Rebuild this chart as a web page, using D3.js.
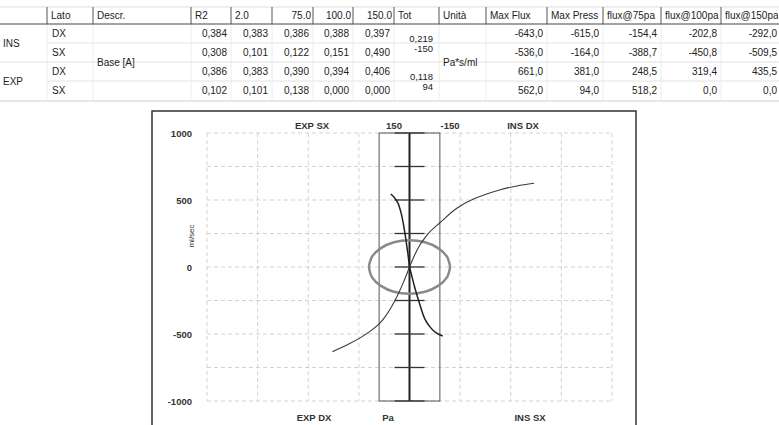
<!DOCTYPE html>
<html>
<head>
<meta charset="utf-8">
<script src="https://cdn.jsdelivr.net/npm/d3@7"></script>
<style>
  body { margin: 0; background: #fff; }
  svg { display: block; }
</style>
</head>
<body>
<div id="chart"></div>
<script>
// Table data
const tableHeaders = ["", "Lato", "Descr.", "R2", "2.0", "75.0", "100.0", "150.0", "Tot", "Unità",
    "Max Flux", "Max Press", "flux@75pa", "flux@100pa", "flux@150pa"];
const groups = ["INS", "EXP"];
const sides = ["DX", "SX", "DX", "SX"];
const descr = "Base [A]";
const unit = "Pa*s/ml";
const r2Values = [
    ["0,384", "0,383", "0,386", "0,388", "0,397"],
    ["0,308", "0,101", "0,122", "0,151", "0,490"],
    ["0,386", "0,383", "0,390", "0,394", "0,406"],
    ["0,102", "0,101", "0,138", "0,000", "0,000"]
];
const totValues = [["0,219", "-150"], ["0,118", "94"]];
const fluxValues = [
    ["-643,0", "-615,0", "-154,4", "-202,8", "-292,0"],
    ["-536,0", "-164,0", "-388,7", "-450,8", "-509,5"],
    ["661,0", "381,0", "248,5", "319,4", "435,5"],
    ["562,0", "94,0", "518,2", "0,0", "0,0"]
];

// Curve data [pressure Pa, flow ml/sec] as plotted
const insDx = [[0, 0], [-25, 88], [-50, 160], [-75, 215], [-100, 262], [-150, 330], [-230, 435], [-313, 505], [-444, 575], [-530, 605], [-615, 625]];
const expDx = [[0, 0], [30, -115], [60, -215], [90, -300], [120, -370], [150, -425], [190, -475], [240, -525], [300, -575], [381, -632]];
const expSx = [[0, 0], [8, 100], [25, 276], [41, 400], [58, 480], [75, 518], [92, 545]];
const insSx = [[0, 0], [-8, -47], [-25, -147], [-50, -275], [-75, -385], [-100, -445], [-130, -490], [-164, -515]];
const refCircle = [[200, 0], [185, 77], [141, 141], [77, 185], [0, 200], [-77, 185], [-141, 141], [-185, 77],
    [-200, 0], [-185, -77], [-141, -141], [-77, -185], [0, -200], [77, -185], [141, -141], [185, -77]];
const yTickLabels = [1000, 500, 0, -500, -1000];
const gridSteps = [-1000, -750, -500, -250, 0, 250, 500, 750, 1000];
const pressBox = [150, -150];

const width = 779, height = 425;
const svg = d3.select("#chart").append("svg")
    .attr("width", width).attr("height", height)
    .style("font-family", "'Liberation Sans', Arial, sans-serif");

// ---------- table ----------
const colX = [0, 47, 93, 191, 231, 272, 313, 353, 394, 439, 486, 547, 603, 661, 721, 779];
const headTop = 7, headBot = 24, rowH = 19;
const rowY = i => headBot + i * rowH;
const table = svg.append("g").style("font-size", "10px").attr("fill", "#222");

// row lines
[1, 2, 3].forEach(i => {
    table.append("line")
        .attr("x1", i === 2 ? 0 : 47).attr("x2", 779)
        .attr("y1", rowY(i)).attr("y2", rowY(i))
        .attr("stroke", "#e2e2e2");
});
table.append("line").attr("x1", 0).attr("x2", 779).attr("y1", rowY(4) + 1).attr("y2", rowY(4) + 1)
    .attr("stroke", "#cfcfcf");
table.append("line").attr("x1", 0).attr("x2", 779).attr("y1", headTop).attr("y2", headTop)
    .attr("stroke", "#ddd");
// column lines
colX.slice(1, -1).forEach(x => {
    table.append("line").attr("x1", x).attr("x2", x).attr("y1", headTop).attr("y2", headBot)
        .attr("stroke", "#555");
    table.append("line").attr("x1", x).attr("x2", x).attr("y1", headBot).attr("y2", rowY(4))
        .attr("stroke", "#ececec");
});
table.append("line").attr("x1", 0).attr("x2", 779).attr("y1", headBot).attr("y2", headBot)
    .attr("stroke", "#444");

// header texts
const defs = svg.append("defs");
tableHeaders.forEach((h, i) => {
    if (!h) return;
    defs.append("clipPath").attr("id", "hc" + i).append("rect")
        .attr("x", colX[i]).attr("y", headTop).attr("width", colX[i + 1] - colX[i] - 1).attr("height", headBot - headTop);
    const right = i >= 5 && i <= 7;
    table.append("text")
        .attr("clip-path", `url(#hc${i})`)
        .attr("x", right ? colX[i + 1] - 2 : colX[i] + 4)
        .attr("y", headTop + 12)
        .attr("text-anchor", right ? "end" : "start")
        .text(h);
});

// body
groups.forEach((g, k) => {
    table.append("text").attr("x", 3).attr("y", rowY(2 * k + 1) + 4).text(g);
    totValues[k].forEach((t, j) => {
        table.append("text").attr("x", 433).attr("y", rowY(2 * k) + 18 + j * 10)
            .style("font-size", "9.5px")
            .attr("text-anchor", "end").text(t);
    });
});
sides.forEach((s, r) => {
    table.append("text").attr("x", 52).attr("y", rowY(r) + 13).text(s);
    r2Values[r].forEach((v, c) => {
        table.append("text").attr("x", colX[c + 4] - 4).attr("y", rowY(r) + 13)
            .attr("text-anchor", "end").text(v);
    });
    fluxValues[r].forEach((v, c) => {
        table.append("text").attr("x", colX[c + 11] - 4 + (c === 4 ? 2 : 0)).attr("y", rowY(r) + 13)
            .attr("text-anchor", "end").text(v);
    });
});
table.append("text").attr("x", 97).attr("y", rowY(2) + 4).text(descr);
table.append("text").attr("x", 443).attr("y", rowY(2) + 4).text(unit);

// ---------- chart ----------
const x = d3.scaleLinear().domain([1000, -1000]).range([207, 612]);
const y = d3.scaleLinear().domain([-1000, 1000]).range([401, 133]);

svg.append("rect").attr("x", 152).attr("y", 111).attr("width", 484).attr("height", 340)
    .attr("fill", "none").attr("stroke", "#333").attr("stroke-width", 1.5);

const grid = svg.append("g").attr("stroke", "#c8c8c8").attr("stroke-dasharray", "4,3").attr("stroke-width", 0.8);
gridSteps.forEach(v => {
    grid.append("line").attr("x1", x(1000)).attr("x2", x(-1000)).attr("y1", y(v)).attr("y2", y(v));
    grid.append("line").attr("x1", x(v)).attr("x2", x(v)).attr("y1", y(1000)).attr("y2", y(-1000));
});

// pressure box
svg.append("rect")
    .attr("x", x(pressBox[0])).attr("y", y(1000))
    .attr("width", x(pressBox[1]) - x(pressBox[0])).attr("height", y(-1000) - y(1000))
    .attr("fill", "none").attr("stroke", "#555").attr("stroke-width", 1);

// central axis with ticks
svg.append("line").attr("x1", x(0)).attr("x2", x(0)).attr("y1", y(1000)).attr("y2", y(-1000))
    .attr("stroke", "#222").attr("stroke-width", 2);
svg.append("g").selectAll("line").data(gridSteps).join("line")
    .attr("x1", x(0) - 15).attr("x2", x(0) + 15)
    .attr("y1", d => y(d)).attr("y2", d => y(d))
    .attr("stroke", "#333").attr("stroke-width", 1.3);

// y axis labels
const yAxis = svg.append("g").attr("transform", "translate(192,0)")
    .call(d3.axisLeft(y).tickValues(yTickLabels).tickFormat(d => String(d)).tickSize(0).tickPadding(0));
yAxis.select(".domain").remove();
yAxis.selectAll("text").attr("fill", "#333").style("font-size", "9.5px").style("font-weight", "bold")
    .style("font-family", "'Liberation Sans', Arial, sans-serif");

svg.append("text").attr("transform", "translate(194,236) rotate(-90)")
    .attr("text-anchor", "middle").style("font-size", "8px").attr("fill", "#333").text("ml/sec");

// reference circle
const line = d3.line().x(d => x(d[0])).y(d => y(d[1]));
svg.append("path").datum(refCircle)
    .attr("d", line.curve(d3.curveCardinalClosed.tension(0.3)))
    .attr("fill", "none").attr("stroke", "#8a8a8a").attr("stroke-width", 2.5);

// curves
const curveLine = d3.line().x(d => x(d[0])).y(d => y(d[1])).curve(d3.curveCatmullRom);
[insDx, expDx].forEach(s => {
    svg.append("path").datum(s).attr("d", curveLine)
        .attr("fill", "none").attr("stroke", "#3a3a3a").attr("stroke-width", 1.1);
});
[expSx, insSx].forEach(s => {
    svg.append("path").datum(s).attr("d", curveLine)
        .attr("fill", "none").attr("stroke", "#222").attr("stroke-width", 1.5);
});

// labels
const lbl = svg.append("g").style("font-size", "9.5px").style("font-weight", "bold").attr("fill", "#333")
    .attr("text-anchor", "middle");
lbl.append("text").attr("x", 312).attr("y", 129).text("EXP SX");
lbl.append("text").attr("x", 523).attr("y", 129).text("INS DX");
lbl.append("text").attr("x", 394).attr("y", 129).text("150");
lbl.append("text").attr("x", 450).attr("y", 129).text("-150");
lbl.append("text").attr("x", 314).attr("y", 421).text("EXP DX");
lbl.append("text").attr("x", 388).attr("y", 421).text("Pa");
lbl.append("text").attr("x", 530).attr("y", 421).text("INS SX");
</script>
</body>
</html>
